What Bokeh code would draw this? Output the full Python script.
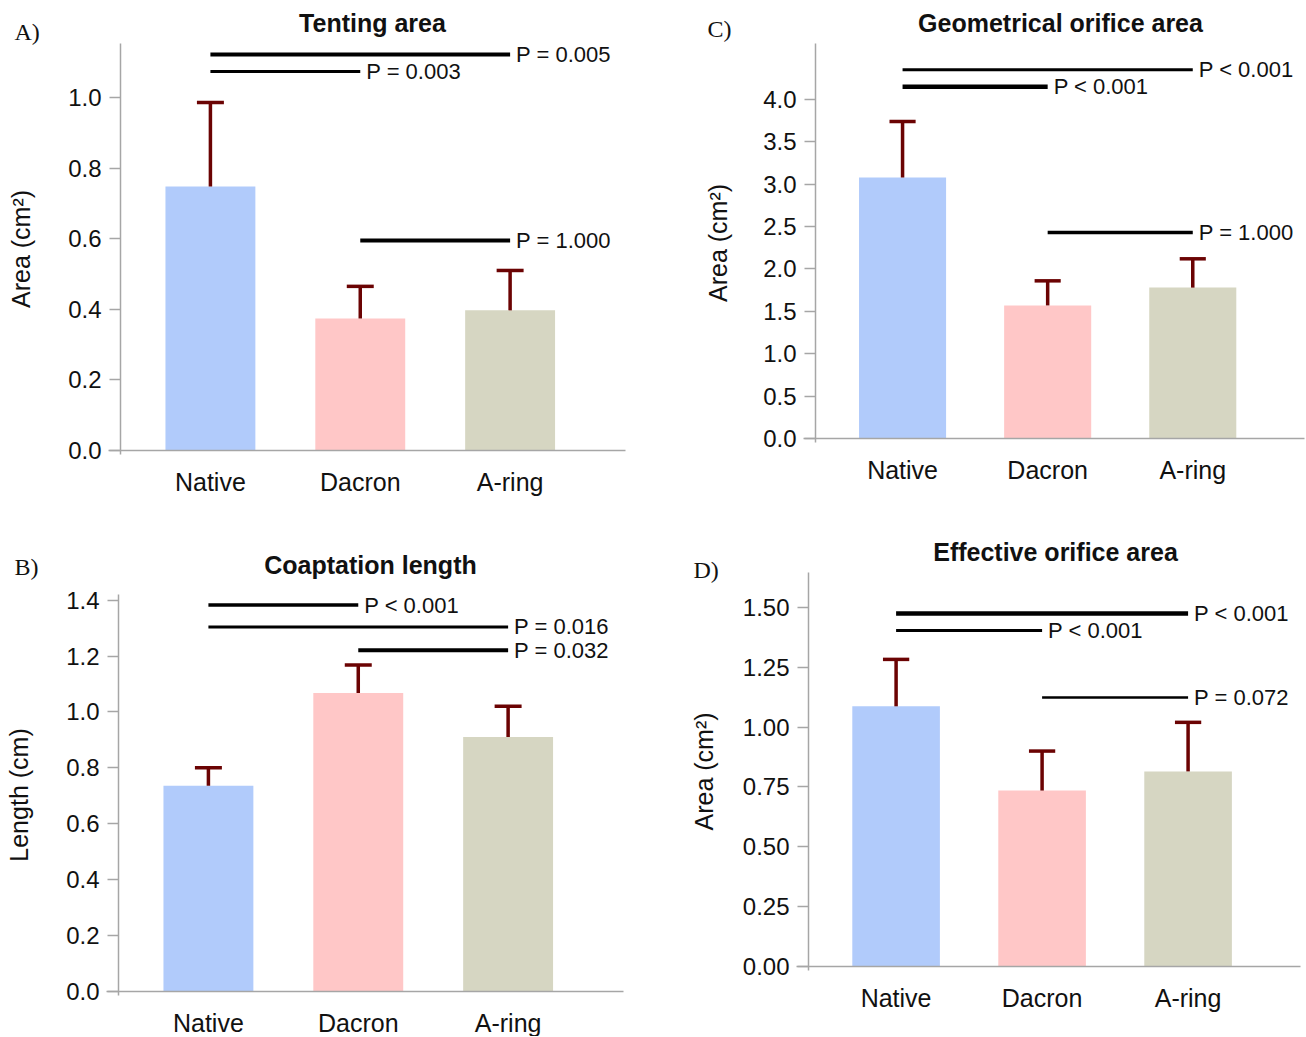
from bokeh.plotting import figure
from bokeh.models import FixedTicker, Label, Range1d, PrintfTickFormatter, ColumnDataSource
from bokeh.layouts import row, column
from bokeh.embed import file_html
from bokeh.resources import INLINE
from bokeh.core.properties import value

# ---------------- data ----------------
groups = ["Native", "Dacron", "A-ring"]
bar_colors = ["#b1cbfb", "#ffc7c7", "#d6d6c2"]

# A) Tenting area (cm^2)
tent_mean = [0.748, 0.374, 0.397]
tent_sd = [0.238, 0.091, 0.113]
tent_pairs = [(0, 2), (0, 1), (1, 2)]
tent_level = [1.122, 1.074, 0.595]
tent_p = ["P = 0.005", "P = 0.003", "P = 1.000"]
tent_ticks = [0.0, 0.2, 0.4, 0.6, 0.8, 1.0]

# C) Geometrical orifice area (cm^2)
goa_mean = [3.08, 1.57, 1.78]
goa_sd = [0.66, 0.29, 0.34]
goa_pairs = [(0, 2), (0, 1), (1, 2)]
goa_level = [4.35, 4.15, 2.43]
goa_p = ["P < 0.001", "P < 0.001", "P = 1.000"]
goa_ticks = [0.0, 0.5, 1.0, 1.5, 2.0, 2.5, 3.0, 3.5, 4.0]

# B) Coaptation length (cm)
coap_mean = [0.736, 1.068, 0.910]
coap_sd = [0.064, 0.100, 0.110]
coap_pairs = [(0, 1), (0, 2), (1, 2)]
coap_level = [1.382, 1.304, 1.221]
coap_p = ["P < 0.001", "P = 0.016", "P = 0.032"]
coap_ticks = [0.0, 0.2, 0.4, 0.6, 0.8, 1.0, 1.2, 1.4]

# D) Effective orifice area (cm^2)
eoa_mean = [1.087, 0.735, 0.815]
eoa_sd = [0.196, 0.165, 0.205]
eoa_pairs = [(0, 2), (0, 1), (1, 2)]
eoa_level = [1.475, 1.404, 1.124]
eoa_p = ["P < 0.001", "P < 0.001", "P = 0.072"]
eoa_ticks = [0.0, 0.25, 0.5, 0.75, 1.0, 1.25, 1.5]

SANS = "Liberation Sans"
SERIF = "Liberation Serif"
ERR = "#6b0303"
AX = "#a6a6a6"
TXT = "#111111"


def panel(letter, title, ylabel, means, sds, pairs, levels, plabels, line_w,
          ticks, fmt, ymax, fig_w, fig_h, L, R, T, B, letter_xy, title_xy, lab_stand):
    # plot-area geometry (pixels inside this figure) -> ranges
    xmin, xmax = -0.6, 2.77
    kx = (R - L) / (xmax - xmin)
    ky = (B - T) / ymax
    p = figure(width=fig_w, height=fig_h, output_backend="svg", toolbar_location=None,
               x_range=Range1d(xmin - L / kx, xmin + (fig_w - L) / kx),
               y_range=Range1d(-(fig_h - B) / ky, B / ky),
               min_border_left=0, min_border_right=0, min_border_top=0, min_border_bottom=0)
    p.outline_line_color = None
    p.xgrid.visible = False
    p.ygrid.visible = False

    xs = list(range(len(groups)))
    src = ColumnDataSource(dict(x=xs, top=means, color=bar_colors,
                                hi=[m + s for m, s in zip(means, sds)]))
    p.vbar(x="x", top="top", width=0.6, bottom=0, fill_color="color",
           line_color=None, source=src)
    p.segment(x0="x", y0="top", x1="x", y1="hi", line_color=ERR, line_width=3.5, source=src)
    cap = ColumnDataSource(dict(x0=[x - 0.09 for x in xs], x1=[x + 0.09 for x in xs],
                                y=src.data["hi"]))
    p.segment(x0="x0", y0="y", x1="x1", y1="y", line_color=ERR, line_width=3.5, source=cap)

    sig = ColumnDataSource(dict(x0=[a for a, b in pairs], x1=[b for a, b in pairs],
                                y=levels, lab=plabels, w=line_w))
    p.segment(x0="x0", y0="y", x1="x1", y1="y", line_color="black", line_width="w", source=sig)
    p.text(x="x1", y="y", text="lab", source=sig, x_offset=6,
           text_baseline="middle", text_align="left", text_font=value(SANS),
           text_font_size="22px", text_color=TXT)

    # axes (library axes pinned at the plot-area edges)
    ya = p.yaxis[0]
    ya.fixed_location = xmin
    ya.bounds = (-4 / ky, ymax)
    ya.ticker = FixedTicker(ticks=ticks)
    ya.formatter = PrintfTickFormatter(format=fmt)
    ya.axis_line_color = AX
    ya.axis_line_width = 1.5
    ya.major_tick_line_color = AX
    ya.major_tick_line_width = 1.5
    ya.major_tick_out = 11
    ya.major_tick_in = 0
    ya.minor_tick_line_color = None
    ya.major_label_text_font = SANS
    ya.major_label_text_font_size = "24px"
    ya.major_label_text_color = TXT
    ya.major_label_standoff = 8
    ya.axis_label = ylabel
    ya.axis_label_text_font = SANS
    ya.axis_label_text_font_style = "normal"
    ya.axis_label_text_font_size = "25px"
    ya.axis_label_text_color = TXT
    ya.axis_label_standoff = lab_stand

    xa = p.xaxis[0]
    xa.fixed_location = 0
    xa.bounds = (xmin - 12 / kx, xmax)
    xa.ticker = FixedTicker(ticks=xs)
    xa.major_label_overrides = {i: g for i, g in enumerate(groups)}
    xa.axis_line_color = AX
    xa.axis_line_width = 1.5
    xa.major_tick_line_color = None
    xa.minor_tick_line_color = None
    xa.major_tick_out = 0
    xa.major_label_standoff = 17
    xa.major_label_text_font = SANS
    xa.major_label_text_font_size = "25px"
    xa.major_label_text_color = TXT

    p.add_layout(Label(x=title_xy[0], y=fig_h - title_xy[1], x_units="screen", y_units="screen",
                       text=title, text_font=SANS, text_font_size="25px", text_font_style="bold",
                       text_align="center", text_baseline="middle", text_color=TXT))
    p.add_layout(Label(x=letter_xy[0], y=fig_h - letter_xy[1], x_units="screen", y_units="screen",
                       text=letter, text_font=SERIF, text_font_size="24px",
                       text_align="left", text_baseline="middle", text_color=TXT))
    return p


pA = panel("A)", "Tenting area", "Area (cm²)", tent_mean, tent_sd, tent_pairs, tent_level,
           tent_p, [4, 3, 4], tent_ticks, "%.1f", 1.153,
           690, 520, 120, 625, 43, 450, (14, 31), (372, 22), 30)
pB = panel("B)", "Coaptation length", "Length (cm)", coap_mean, coap_sd, coap_pairs, coap_level,
           coap_p, [3.5, 3, 4], coap_ticks, "%.1f", 1.42,
           690, 516, 118, 623, 74, 471, (14, 46), (370, 44), 30)
pC = panel("C)", "Geometrical orifice area", "Area (cm²)", goa_mean, goa_sd, goa_pairs, goa_level,
           goa_p, [3, 4.5, 3.5], goa_ticks, "%.1f", 4.66,
           615, 505, 125, 614, 43, 438, (17, 28), (370, 22), 28)
pD = panel("D)", "Effective orifice area", "Area (cm²)", eoa_mean, eoa_sd, eoa_pairs, eoa_level,
           eoa_p, [4.5, 3, 2.5], eoa_ticks, "%.2f", 1.646,
           615, 531, 118, 610, 67, 461, (3, 64), (365, 46), 22)

layout = row(column(pA, pB), column(pC, pD))
open("out.html", "w").write(file_html(layout, INLINE))
